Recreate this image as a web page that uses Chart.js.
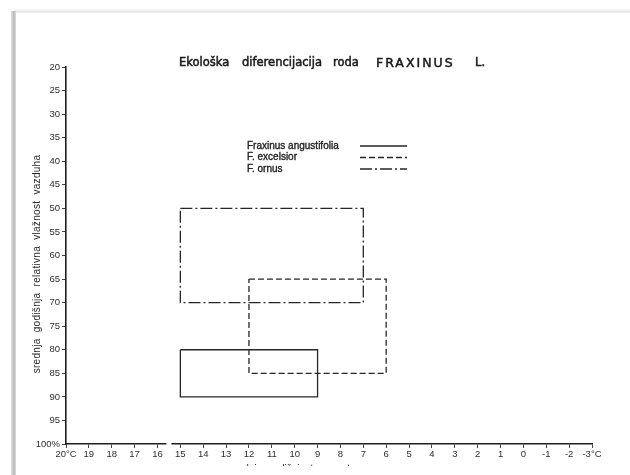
<!DOCTYPE html>
<html>
<head>
<meta charset="utf-8">
<title>Ekološka diferencijacija roda Fraxinus L.</title>
<script src="https://cdn.jsdelivr.net/npm/chart.js@4.4.0/dist/chart.umd.min.js"></script>
<style>
    html, body { margin: 0; padding: 0; background: #fff; width: 630px; height: 475px; overflow: hidden; }
    /* rub skenirane stranice */
    .edge-top { position: absolute; left: 14px; top: 9px; width: 616px; height: 4px;
        background: linear-gradient(to bottom, #fdfdfd, #e4e4e4 70%, #f0f0f0); }
    .edge-left { position: absolute; left: 11px; top: 11px; width: 5px; height: 464px;
        background: linear-gradient(to right, #e6e6e6, #b9b9b9 55%, #dcdcdc); }
    #chart { position: absolute; left: 0; top: 0; }
</style>
</head>
<body>
<div class="edge-top"></div>
<div class="edge-left"></div>
<canvas id="chart" width="630" height="475"></canvas>
<script>
// Podaci: raspon temperature i vlažnosti za svaku vrstu
const species = ['Fraxinus angustifolia', 'F. excelsior', 'F. ornus'];
const tempWarm = [15, 12, 15];      // °C (lijeva strana pravougaonika)
const tempCold = [9, 6, 7];         // °C (desna strana)
const humidityLow = [80, 65, 50];   // % (gornja strana)
const humidityHigh = [90, 85, 70];  // % (donja strana)

// Podjela osa
const tempTicks = [20, 19, 18, 17, 16, 15, 14, 13, 12, 11, 10, 9, 8, 7, 6, 5, 4, 3, 2, 1, 0, -1, -2, -3];
const humidityTicks = [20, 25, 30, 35, 40, 45, 50, 55, 60, 65, 70, 75, 80, 85, 90, 95, 100];

// Stil linija (puna, isprekidana, crta-tačka)
const lineDashes = [[], [6, 3], [12, 3, 2, 3]];
const ink = '#262626';

/**
 * Pravi zatvoreni pravougaonik od raspona vrijednosti
 */
function rectPoints(i) {
    return [
        { x: tempWarm[i], y: humidityLow[i] },
        { x: tempCold[i], y: humidityLow[i] },
        { x: tempCold[i], y: humidityHigh[i] },
        { x: tempWarm[i], y: humidityHigh[i] },
        { x: tempWarm[i], y: humidityLow[i] }
    ];
}

const datasets = species.map((name, i) => ({
    label: name,
    data: rectPoints(i),
    showLine: true,
    borderColor: ink,
    borderWidth: 1.3,
    borderDash: lineDashes[i],
    pointRadius: 0,
    fill: false,
    tension: 0
}));

// Tekst sa malo deblјim potezom (kao na skenu)
function inkText(ctx, text, x, y, weight) {
    ctx.fillText(text, x, y);
    ctx.lineWidth = weight;
    ctx.strokeText(text, x, y);
}

// Tekstovi, legenda i prekid x-ose
const paperText = {
    id: 'paperText',
    afterDraw(chart) {
        const ctx = chart.ctx;
        const area = chart.chartArea;
        const xs = chart.scales.x;
        ctx.save();

        // prekid ose između 16 i 15
        const gap = xs.getPixelForValue(15.5);
        ctx.fillStyle = '#fff';
        ctx.fillRect(gap - 2.5, area.bottom - 3, 5, 6);

        // naslov
        ctx.fillStyle = '#1a1a1a';
        ctx.strokeStyle = '#1a1a1a';
        ctx.textBaseline = 'alphabetic';
        ctx.textAlign = 'left';
        ctx.font = '11.5px "DejaVu Sans"';
        const words = [['Ekološka', 179], ['diferencijacija', 242], ['roda', 333], ['L.', 475]];
        words.forEach(([w, x]) => inkText(ctx, w, x, 66, 0.5));
        ctx.font = '12.5px "DejaVu Sans"';
        ctx.letterSpacing = '2px';
        inkText(ctx, 'FRAXINUS', 376, 66.5, 0.5);
        ctx.letterSpacing = '0px';

        // legenda
        ctx.font = '10px "Liberation Sans"';
        ctx.fillStyle = '#222';
        ctx.strokeStyle = '#222';
        ctx.textBaseline = 'middle';
        chart.data.datasets.forEach((ds, i) => {
            const y = 146 + i * 11.5;
            inkText(ctx, ds.label, 247, y, 0.35);
            ctx.beginPath();
            ctx.setLineDash(ds.borderDash);
            ctx.strokeStyle = ds.borderColor;
            ctx.lineWidth = 1.3;
            ctx.moveTo(360, y);
            ctx.lineTo(407, y);
            ctx.stroke();
            ctx.setLineDash([]);
            ctx.strokeStyle = '#222';
        });

        // naslov y-ose
        ctx.save();
        ctx.translate(37, 264);
        ctx.rotate(-Math.PI / 2);
        ctx.textAlign = 'center';
        ctx.font = '10px "Liberation Sans"';
        ctx.letterSpacing = '0.3px';
        ctx.fillStyle = '#2a2a2a';
        ctx.fillText('srednja  godišnja  relativna  vlažnost  vazduha', 0, 0);
        ctx.restore();

        // naslov x-ose (odsječen rubom skena)
        ctx.beginPath();
        ctx.rect(0, 0, chart.width, 466);
        ctx.clip();
        ctx.textAlign = 'center';
        ctx.textBaseline = 'alphabetic';
        ctx.font = '10px "Liberation Sans"';
        ctx.fillStyle = '#2a2a2a';
        ctx.fillText('srednja  godišnja  temperatura', 297, 472);

        ctx.restore();
    }
};

const tickFont = { family: '"Liberation Sans", Arial, sans-serif', size: 9.5 };

new Chart(document.getElementById('chart').getContext('2d'), {
    type: 'scatter',
    data: { datasets: datasets },
    options: {
        responsive: false,
        animation: false,
        layout: { padding: { left: 0, right: 38, top: 67, bottom: 0 } },
        plugins: {
            legend: { display: false },
            title: { display: false },
            tooltip: { enabled: false }
        },
        scales: {
            x: {
                type: 'linear',
                reverse: true,
                min: -3,
                max: 20,
                afterBuildTicks: (scale) => { scale.ticks = tempTicks.map(v => ({ value: v })); },
                afterFit: (scale) => { scale.height = 31; scale.paddingLeft = 0; scale.paddingRight = 0; },
                ticks: {
                    autoSkip: false,
                    maxRotation: 0,
                    padding: 1,
                    color: '#2e2e2e',
                    font: tickFont,
                    callback: (v) => (v === 20 || v === -3) ? v + '°C' : String(v)
                },
                grid: { drawOnChartArea: false, drawTicks: true, tickLength: 4, color: '#444' },
                border: { display: true, color: '#1e1e1e', width: 1.6 }
            },
            y: {
                type: 'linear',
                reverse: true,
                min: 20,
                max: 100,
                afterBuildTicks: (scale) => { scale.ticks = humidityTicks.map(v => ({ value: v })); },
                afterFit: (scale) => { scale.width = 66; scale.paddingTop = 0; scale.paddingBottom = 0; },
                ticks: {
                    autoSkip: false,
                    padding: 2,
                    color: '#2e2e2e',
                    font: tickFont,
                    callback: (v) => v === 100 ? '100%' : String(v)
                },
                grid: { drawOnChartArea: false, drawTicks: true, tickLength: 4, color: '#444' },
                border: { display: true, color: '#1e1e1e', width: 1.6 }
            }
        }
    },
    plugins: [paperText]
});
</script>
</body>
</html>
